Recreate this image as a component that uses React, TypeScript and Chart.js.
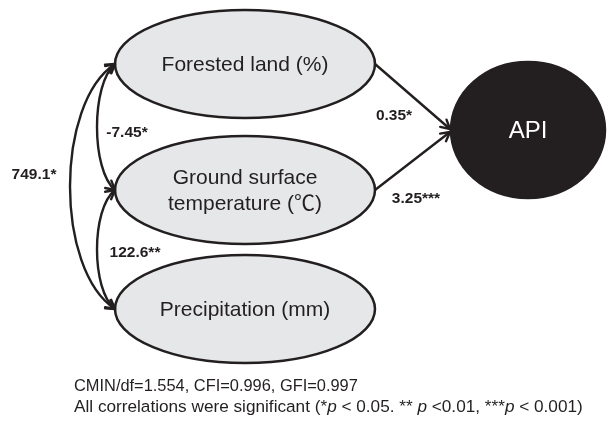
import React, { useEffect, useRef } from "react";
import { Chart, registerables } from "chart.js";

Chart.register(...registerables);

// ---- data ----
const nodeNames = ["Forested land (%)", "Ground surface\ntemperature (℃)", "Precipitation (mm)", "API"];
const pathFrom = [0, 1];
const pathTo = [3, 3];
const pathCoef = ["0.35*", "3.25***"];
const corrA = [0, 1, 0];
const corrB = [1, 2, 2];
const corrCoef = ["-7.45*", "122.6**", "749.1*"];
const fitLine = "CMIN/df=1.554, CFI=0.996, GFI=0.997";
const sigLine: [string, boolean][] = [
  ["All correlations were significant (*", false],
  ["p", true],
  [" < 0.05. ** ", false],
  ["p", true],
  [" <0.01, ***", false],
  ["p", true],
  [" < 0.001)", false],
];

// ---- layout (diagram units) ----
const nodeX = [245, 245, 245, 528];
const nodeY = [64, 190, 309, 130];
const nodeRx = [130, 130, 130, 77];
const nodeRy = [54, 54, 54, 68];
const pathLabelX = [394, 416];
const pathLabelY = [116, 199];
const corrBulge = [24, 24, 60];
const corrLabelX = [127, 135, 34];
const corrLabelY = [133, 253, 175];
const footerX = 74;
const footerY = [386, 407];
const footerSize = [16.4, 17.2];

const INK = "#231f20";
const FILL = "#e6e7e8";
const FONT = '"Liberation Sans", Arial, "Noto Sans CJK SC", sans-serif';

function arrowHead(ctx: CanvasRenderingContext2D, tx: number, ty: number, ang: number) {
  const len = 10;
  const spread = 0.5;
  ctx.beginPath();
  ctx.moveTo(tx - len * Math.cos(ang - spread), ty - len * Math.sin(ang - spread));
  ctx.lineTo(tx, ty);
  ctx.lineTo(tx - len * Math.cos(ang + spread), ty - len * Math.sin(ang + spread));
  ctx.stroke();
}

const diagramPlugin = {
  id: "pathDiagram",
  afterDatasetsDraw(chart: any) {
    const { ctx } = chart;
    const xs = chart.scales.x;
    const ys = chart.scales.y;
    const px = (v: number) => xs.getPixelForValue(v);
    const py = (v: number) => ys.getPixelForValue(v);
    ctx.save();
    ctx.lineJoin = "round";
    ctx.lineCap = "round";

    // nodes
    nodeNames.forEach((name, i) => {
      const cx = px(nodeX[i]);
      const cy = py(nodeY[i]);
      const rx = Math.abs(px(nodeX[i] + nodeRx[i]) - cx);
      const ry = Math.abs(py(nodeY[i] + nodeRy[i]) - cy);
      const isOutcome = pathTo.includes(i);
      ctx.beginPath();
      ctx.ellipse(cx, cy, rx, ry, 0, 0, Math.PI * 2);
      ctx.fillStyle = isOutcome ? INK : FILL;
      ctx.fill();
      ctx.lineWidth = 2.5;
      ctx.strokeStyle = INK;
      ctx.stroke();
      ctx.fillStyle = isOutcome ? "#ffffff" : INK;
      ctx.font = `${isOutcome ? 24 : 21}px ${FONT}`;
      ctx.textAlign = "center";
      ctx.textBaseline = "middle";
      const lines = name.split("\n");
      const lh = 26;
      lines.forEach((ln, k) => {
        ctx.fillText(ln, cx, cy + (k - (lines.length - 1) / 2) * lh + 1);
      });
    });

    ctx.strokeStyle = INK;
    ctx.lineWidth = 2.4;

    // regression paths
    pathFrom.forEach((f, k) => {
      const t = pathTo[k];
      const sx = px(nodeX[f] + nodeRx[f]);
      const sy = py(nodeY[f]);
      const ex = px(nodeX[t] - nodeRx[t]) - 1;
      const ey = py(nodeY[t]) + (k === 0 ? -1 : 2);
      ctx.beginPath();
      ctx.moveTo(sx, sy);
      ctx.lineTo(ex, ey);
      ctx.stroke();
      arrowHead(ctx, ex, ey, Math.atan2(ey - sy, ex - sx));
      ctx.fillStyle = INK;
      ctx.font = `bold 15.5px ${FONT}`;
      ctx.textAlign = "center";
      ctx.textBaseline = "middle";
      ctx.fillText(pathCoef[k], px(pathLabelX[k]), py(pathLabelY[k]));
    });

    // correlations
    corrA.forEach((a, k) => {
      const b = corrB[k];
      const x0 = px(nodeX[a] - nodeRx[a]);
      const y0 = py(nodeY[a]);
      const x3 = px(nodeX[b] - nodeRx[b]);
      const y3 = py(nodeY[b]);
      const bulge = Math.abs(px(corrBulge[k]) - px(0));
      const dy = (y3 - y0) * 0.16;
      const c1x = x0 - bulge;
      const c1y = y0 + dy;
      const c2x = x3 - bulge;
      const c2y = y3 - dy;
      ctx.beginPath();
      ctx.moveTo(x0, y0);
      ctx.bezierCurveTo(c1x, c1y, c2x, c2y, x3, y3);
      ctx.stroke();
      arrowHead(ctx, x0, y0, Math.atan2(y0 - c1y, x0 - c1x));
      arrowHead(ctx, x3, y3, Math.atan2(y3 - c2y, x3 - c2x));
      ctx.fillStyle = INK;
      ctx.font = `bold 15.5px ${FONT}`;
      ctx.textAlign = "center";
      ctx.textBaseline = "middle";
      ctx.fillText(corrCoef[k], px(corrLabelX[k]), py(corrLabelY[k]));
    });

    // footer
    ctx.fillStyle = INK;
    ctx.textAlign = "left";
    ctx.textBaseline = "middle";
    ctx.font = `${footerSize[0]}px ${FONT}`;
    ctx.fillText(fitLine, px(footerX), py(footerY[0]));
    let cx = px(footerX);
    sigLine.forEach(([txt, it]) => {
      ctx.font = `${it ? "italic " : ""}${footerSize[1]}px ${FONT}`;
      ctx.fillText(txt, cx, py(footerY[1]));
      cx += ctx.measureText(txt).width;
    });
    ctx.restore();
  },
};

export default function App() {
  const ref = useRef<HTMLCanvasElement | null>(null);
  useEffect(() => {
    document.body.style.margin = "0";
    const c = ref.current;
    if (!c) return;
    const chart = new Chart(c, {
      type: "scatter",
      data: {
        datasets: [
          {
            data: nodeX.map((v, i) => ({ x: v, y: nodeY[i] })),
            pointRadius: 0,
            pointHoverRadius: 0,
          },
        ],
      },
      options: {
        animation: false,
        responsive: true,
        maintainAspectRatio: false,
        layout: { padding: 0 },
        plugins: { legend: { display: false }, tooltip: { enabled: false } },
        scales: {
          x: { type: "linear", min: 0, max: 608, display: false },
          y: { type: "linear", min: 0, max: 423, reverse: true, display: false },
        },
      },
      plugins: [diagramPlugin],
    });
    return () => chart.destroy();
  }, []);
  return (
    <div style={{ width: 608, height: 423, position: "relative", background: "#fff" }}>
      <canvas ref={ref} />
    </div>
  );
}
